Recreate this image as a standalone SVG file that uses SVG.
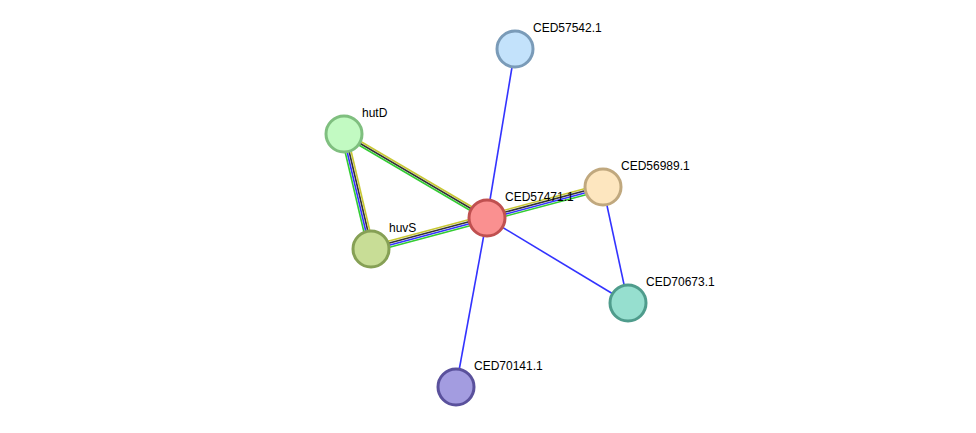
<svg xmlns="http://www.w3.org/2000/svg" width="976" height="433" viewBox="0 0 976 433">
<style>
line{stroke-width:1.6}
.b{stroke:#3333ff}.k{stroke:#333333}.g{stroke:#33cc33}.y{stroke:#c8c832}
circle{stroke-width:3}
text{font-family:"Liberation Sans",Arial,sans-serif;font-size:12px;fill:#000}
</style>
<rect width="976" height="433" fill="#fff"/>
<g id="edges">
<line class="b" x1="487" y1="218" x2="515" y2="49"/>
<line class="b" x1="487" y1="218" x2="628" y2="303"/>
<line class="b" x1="487" y1="218" x2="456" y2="387"/>
<line class="b" x1="603" y1="187" x2="628" y2="303"/>
<line class="y" x1="345" y1="132.3" x2="488" y2="216.3"/>
<line class="k" x1="344" y1="134" x2="487" y2="218"/>
<line class="g" x1="343" y1="135.7" x2="486" y2="219.7"/>
<line class="g" x1="341.1" y1="134.7" x2="368.1" y2="249.7"/>
<line class="b" x1="343" y1="134.2" x2="370" y2="249.2"/>
<line class="k" x1="345" y1="133.8" x2="372" y2="248.8"/>
<line class="y" x1="346.9" y1="133.3" x2="373.9" y2="248.3"/>
<line class="y" x1="370.2" y1="246.1" x2="486.2" y2="215.1"/>
<line class="k" x1="370.7" y1="248" x2="486.7" y2="217"/>
<line class="b" x1="371.3" y1="250" x2="487.3" y2="219"/>
<line class="g" x1="371.8" y1="251.9" x2="487.8" y2="220.9"/>
<line class="y" x1="486.2" y1="215.1" x2="602.2" y2="184.1"/>
<line class="k" x1="486.7" y1="217" x2="602.7" y2="186"/>
<line class="b" x1="487.3" y1="219" x2="603.3" y2="188"/>
<line class="g" x1="487.8" y1="220.9" x2="603.8" y2="189.9"/>
</g>
<g id="CED57542.1"><circle cx="515" cy="49" r="18" fill="#c3e2fb" stroke="#7a9bb8"/><text x="533" y="32">CED57542.1</text></g>
<g id="hutD"><circle cx="344" cy="134" r="18" fill="#c2fac2" stroke="#7fbf7f"/><text x="362" y="117">hutD</text></g>
<g id="CED56989.1"><circle cx="603" cy="187" r="18" fill="#fde6bf" stroke="#c0a87e"/><text x="621" y="170">CED56989.1</text></g>
<g id="huvS"><circle cx="371" cy="249" r="18" fill="#c8dd96" stroke="#86a055"/><text x="389" y="232">huvS</text></g>
<g id="CED57471.1"><circle cx="487" cy="218" r="18" fill="#fa9090" stroke="#c05050"/><text x="505" y="201">CED57471.1</text></g>
<g id="CED70673.1"><circle cx="628" cy="303" r="18" fill="#96dfcf" stroke="#4f9c8c"/><text x="646" y="286">CED70673.1</text></g>
<g id="CED70141.1"><circle cx="456" cy="387" r="18" fill="#a39ce0" stroke="#5a519c"/><text x="474" y="370">CED70141.1</text></g>
</svg>
